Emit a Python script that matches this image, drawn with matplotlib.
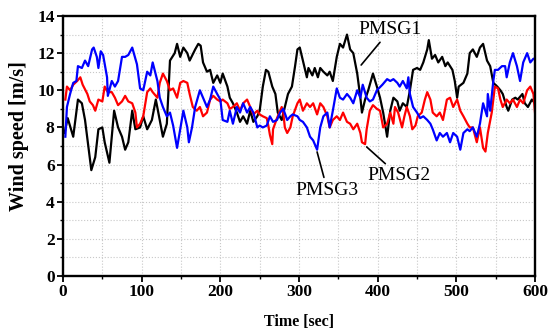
import matplotlib
matplotlib.use('Agg')
import matplotlib.pyplot as plt
from matplotlib.ticker import MultipleLocator

# PMSG1 (black)
t1 = [2, 6, 13, 19, 24, 28, 36, 41, 45, 50,
      53, 59, 65, 70, 75, 79, 83, 88, 92, 98,
      102, 107, 113, 118, 123, 127, 132, 136, 142, 145,
      149, 153, 158, 161, 168, 172, 175, 178, 183, 187,
      191, 196, 200, 203, 209, 212, 216, 221, 225, 229,
      234, 238, 242, 247, 250, 254, 258, 261, 266, 270,
      273, 278, 282, 286, 291, 295, 298, 301, 305, 310,
      312, 317, 320, 324, 327, 331, 336, 339, 343, 348,
      352, 356, 361, 365, 369, 374, 378, 380, 384, 388,
      394, 399, 403, 407, 412, 416, 420, 425, 428, 432,
      437, 441, 445, 450, 454, 458, 463, 465, 469, 473,
      477, 482, 486, 489, 495, 498, 501, 503, 509, 514,
      517, 521, 526, 530, 534, 539, 543, 547, 552, 556,
      559, 564, 566, 571, 575, 578, 584, 587, 591, 596,
      600]
v1 = [7.7, 8.5, 7.5, 9.5, 9.3, 8.4, 5.7, 6.4, 7.9, 8.0,
      7.2, 6.1, 8.9, 8.0, 7.5, 6.8, 7.2, 8.9, 7.9, 8.0,
      8.6, 7.9, 8.4, 9.5, 8.4, 7.5, 8.2, 11.6, 12.0, 12.5,
      11.8, 12.3, 12.0, 11.6, 12.2, 12.5, 12.4, 11.5, 11.0, 11.1,
      10.4, 10.8, 10.4, 10.9, 10.2, 9.6, 9.3, 8.8, 8.3, 8.6,
      8.2, 8.9, 8.3, 8.6, 8.9, 10.2, 11.1, 11.0, 10.2, 9.8,
      8.8, 8.4, 9.1, 9.8, 10.2, 11.3, 12.2, 12.3, 11.6, 10.7,
      11.2, 10.8, 11.2, 10.7, 11.2, 11.0, 10.8, 11.0, 10.5, 11.8,
      12.5, 12.3, 13.0, 12.2, 12.0, 10.9, 9.6, 8.8, 9.5, 10.0,
      10.9, 10.2, 9.6, 8.8, 7.5, 8.9, 9.6, 9.4, 8.9, 9.3,
      9.1, 10.0, 11.1, 11.2, 11.1, 11.5, 12.2, 12.7, 11.7, 11.9,
      11.5, 11.8, 11.3, 11.5, 11.1, 10.5, 9.6, 10.2, 10.4, 10.9,
      12.0, 12.2, 11.8, 12.3, 12.5, 11.6, 11.3, 10.4, 10.2, 10.0,
      9.8, 9.1, 8.9, 9.5, 9.6, 9.5, 9.8, 9.3, 9.1, 9.5,
      9.3]

# PMSG2 (red)
t2 = [3, 5, 9, 13, 18, 22, 25, 31, 34, 38,
      41, 45, 50, 53, 57, 62, 66, 70, 75, 79,
      83, 88, 92, 94, 98, 102, 107, 111, 114, 120,
      123, 127, 132, 136, 140, 145, 149, 153, 158, 161,
      165, 170, 174, 178, 183, 187, 191, 196, 200, 203,
      209, 212, 216, 221, 225, 229, 234, 238, 242, 247,
      250, 254, 259, 261, 263, 266, 267, 272, 276, 278,
      280, 282, 285, 289, 292, 298, 301, 305, 310, 314,
      318, 323, 327, 331, 336, 339, 343, 348, 352, 356,
      361, 365, 369, 374, 378, 380, 384, 386, 390, 394,
      399, 403, 407, 412, 416, 420, 422, 426, 431, 434,
      437, 441, 444, 448, 451, 456, 460, 463, 467, 470,
      475, 479, 483, 488, 492, 496, 501, 505, 509, 514,
      517, 521, 526, 530, 534, 537, 540, 545, 549, 553,
      556, 559, 564, 568, 572, 577, 581, 585, 590, 594,
      598, 600]
v2 = [9.5, 10.2, 10.0, 10.3, 10.5, 10.7, 10.3, 9.8, 9.4, 9.2,
      8.9, 9.5, 9.4, 10.2, 9.9, 9.9, 9.6, 9.2, 9.4, 9.7,
      9.4, 9.3, 8.8, 8.0, 8.2, 8.6, 9.9, 10.1, 9.9, 9.6,
      10.4, 10.9, 10.5, 10.0, 10.1, 9.6, 10.4, 10.5, 10.4, 9.8,
      9.1, 8.9, 9.1, 8.6, 8.8, 9.5, 9.7, 9.5, 9.4, 9.5,
      9.3, 9.0, 9.1, 9.3, 8.9, 9.3, 9.5, 9.1, 8.7, 8.9,
      8.7, 8.6, 8.5, 8.1, 7.6, 7.1, 7.9, 8.5, 8.9, 9.1,
      8.8, 8.0, 7.7, 8.0, 8.6, 9.3, 9.5, 8.9, 9.3, 9.1,
      9.3, 8.7, 9.3, 9.1, 8.6, 8.0, 8.4, 8.6, 8.4, 8.8,
      8.3, 8.2, 7.9, 8.2, 7.7, 7.2, 7.1, 7.9, 8.9, 9.2,
      9.0, 8.9, 8.0, 8.2, 8.8, 8.2, 9.1, 8.8, 8.0, 8.6,
      9.1, 8.6, 7.9, 8.1, 8.6, 8.8, 9.5, 9.9, 9.5, 8.8,
      8.6, 8.8, 8.4, 9.5, 9.6, 9.1, 9.5, 8.9, 8.6, 8.2,
      8.0, 8.0, 7.2, 8.0, 6.9, 6.7, 7.7, 8.8, 10.2, 10.1,
      9.5, 9.1, 9.5, 9.3, 9.5, 9.1, 9.5, 9.3, 10.0, 10.2,
      9.8, 8.8]

# PMSG3 (blue)
t3 = [3, 5, 9, 13, 17, 19, 24, 28, 32, 37,
      39, 43, 45, 48, 51, 56, 57, 62, 66, 70,
      75, 79, 83, 88, 92, 94, 98, 102, 107, 111,
      114, 120, 123, 127, 132, 136, 140, 145, 149, 153,
      158, 160, 164, 168, 174, 178, 183, 187, 191, 196,
      200, 203, 209, 212, 216, 221, 225, 229, 234, 238,
      242, 247, 250, 254, 259, 263, 267, 272, 276, 280,
      285, 289, 292, 298, 301, 305, 310, 314, 318, 323,
      327, 331, 336, 339, 343, 348, 352, 356, 361, 365,
      369, 374, 378, 381, 386, 390, 394, 399, 406, 412,
      416, 420, 425, 428, 432, 437, 439, 441, 445, 450,
      454, 458, 463, 467, 470, 475, 479, 483, 488, 492,
      496, 501, 505, 509, 514, 517, 521, 526, 530, 534,
      539, 540, 543, 547, 549, 553, 558, 562, 564, 568,
      572, 577, 581, 585, 590, 594, 598, 600]
v3 = [7.5, 9.1, 9.8, 10.4, 10.5, 11.3, 11.2, 11.6, 11.3, 12.2,
      12.3, 11.8, 11.2, 12.1, 11.9, 10.7, 9.7, 10.5, 10.2, 10.5,
      11.8, 11.8, 11.9, 12.3, 11.7, 11.4, 10.1, 10.0, 11.0, 10.8,
      11.5, 10.5, 9.6, 9.1, 8.6, 8.8, 8.1, 6.9, 7.9, 8.9,
      8.0, 7.2, 8.0, 9.1, 10.0, 9.6, 9.1, 9.5, 10.2, 9.8,
      9.5, 8.4, 8.3, 8.9, 8.2, 9.1, 8.8, 9.3, 8.8, 9.1,
      8.8, 8.0, 8.1, 8.0, 8.1, 8.6, 8.3, 8.4, 8.8, 9.0,
      8.4, 8.6, 8.7, 8.6, 8.4, 8.3, 8.0, 7.5, 7.3, 6.8,
      8.0, 8.6, 8.8, 8.0, 8.9, 10.1, 9.6, 9.5, 9.8, 9.6,
      9.3, 10.0, 9.6, 10.3, 9.6, 9.4, 9.5, 10.0, 10.3, 10.6,
      10.5, 10.6, 10.4, 10.2, 10.5, 10.1, 10.7, 9.8, 9.1, 8.8,
      8.5, 8.6, 8.4, 8.2, 7.9, 7.3, 7.7, 7.5, 7.7, 7.2,
      7.7, 7.5, 6.8, 7.7, 7.9, 7.8, 8.0, 7.5, 8.2, 9.3,
      8.6, 9.8, 8.9, 10.5, 11.1, 11.1, 11.3, 11.3, 10.7, 11.5,
      12.0, 11.3, 10.5, 11.5, 12.0, 11.5, 11.7, 11.7]

plt.rcParams['font.family'] = ['Liberation Serif', 'DejaVu Serif']

fig = plt.figure(figsize=(5.58, 3.32), dpi=100)
ax = fig.add_axes([0.1129, 0.1687, 0.8459, 0.7831])

ax.plot(t1, v1, color='black', linewidth=1.6)
ax.plot(t2, v2, color='#ff0000', linewidth=1.6)
ax.plot(t3, v3, color='#0000ff', linewidth=1.6)

ax.set_xlim(0, 600)
ax.set_ylim(0, 14)
ax.xaxis.set_major_locator(MultipleLocator(100))
ax.xaxis.set_minor_locator(MultipleLocator(50))
ax.yaxis.set_major_locator(MultipleLocator(2))
ax.yaxis.set_minor_locator(MultipleLocator(1))
ax.grid(True, which='both', color='#c8c8c8', linestyle=':', linewidth=0.8)
ax.set_axisbelow(True)

for s in ax.spines.values():
    s.set_linewidth(1.7)
ax.tick_params(which='major', direction='out', length=4, width=1.3, labelsize=12.5, pad=2)
ax.tick_params(which='minor', direction='out', length=2.5, width=1.0)
for lbl in ax.get_xticklabels() + ax.get_yticklabels():
    lbl.set_fontweight('bold')

ax.set_xlabel('Time [sec]', fontsize=11.5, fontweight='bold', labelpad=10)
ax.set_ylabel('Wind speed [m/s]', fontsize=14.5, fontweight='bold')
ax.yaxis.set_label_coords(-0.072, 0.54)

ann = dict(fontsize=14, ha='center', va='center')
ax.annotate('PMSG1', xy=(379, 11.36), xytext=(416, 13.25),
            arrowprops=dict(arrowstyle='-', color='black', lw=1.2, shrinkA=1, shrinkB=0), **ann)
ax.annotate('PMSG3', xy=(323, 6.68), xytext=(336, 4.63),
            arrowprops=dict(arrowstyle='-', color='black', lw=1.2, shrinkA=1, shrinkB=0), **ann)
ax.annotate('PMSG2', xy=(386, 6.95), xytext=(427, 5.39),
            arrowprops=dict(arrowstyle='-', color='black', lw=1.2, shrinkA=1, shrinkB=0), **ann)

fig.savefig('out.png', dpi=100)
